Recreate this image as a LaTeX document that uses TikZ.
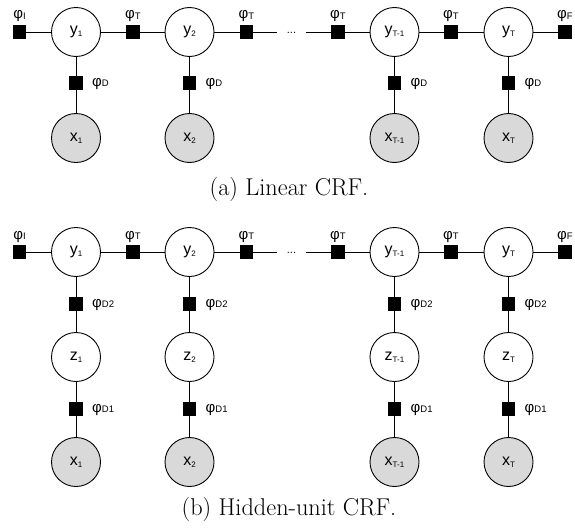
\documentclass[tikz,border=0pt]{standalone}
\usepackage{fontspec}
\newfontfamily\arialf{Liberation Sans}
\definecolor{obsgray}{HTML}{D9D9D9}
\newcommand{\vlab}[2]{{\arialf\fontsize{16}{16}\selectfont #1}\raisebox{-2pt}{\arialf\fontsize{8}{8}\selectfont #2}}
\newcommand{\flab}[2]{{\arialf\fontsize{15}{15}\selectfont #1}\raisebox{-0.5pt}{\arialf\fontsize{9.5}{9.5}\selectfont #2}}
\begin{document}
\begin{tikzpicture}[x=1pt,y=-1pt,
  var/.style={circle,draw,line width=0.9pt,minimum size=49pt,inner sep=0pt,fill=white},
  obs/.style={var,fill=obsgray},
  fac/.style={rectangle,fill=black,minimum size=13.5pt,inner sep=0pt},
  edge/.style={line width=0.9pt},
  toplab/.style={inner sep=0pt,anchor=base},
  sidelab/.style={inner sep=0pt,anchor=west},
  captxt/.style={inner sep=0pt,font=\fontsize{24.3}{29}\selectfont}]
\useasboundingbox (0,0) rectangle (575,527);
% ---------- panel (a) ----------
\node[var] (ay1) at (76,32) {\vlab{y}{1}};
\node[var] (ay2) at (189.5,32) {\vlab{y}{2}};
\node[var] (ay3) at (394.5,32) {\vlab{y}{T-1}};
\node[var] (ay4) at (508.5,32) {\vlab{y}{T}};
\node[fac] (afI) at (19.5,32) {};
\node[fac] (afT1) at (133,32) {};
\node[fac] (afT2) at (246.5,32) {};
\node[fac] (afT3) at (338,32) {};
\node[fac] (afT4) at (451,32) {};
\node[fac] (afF) at (565,32) {};
\coordinate (ad1) at (277,32);
\coordinate (ad2) at (306,32);
\node[inner sep=0pt] (adots) at (291.5,33) {\arialf\fontsize{11}{11}\selectfont ...};
\draw[edge] (afI) -- (ay1) -- (afT1) -- (ay2) -- (afT2) -- (ad1);
\draw[edge] (ad2) -- (afT3) -- (ay3) -- (afT4) -- (ay4) -- (afF);
\node[toplab] (alI) at (19.5,19) {\flab{φ}{I}};
\node[toplab] (alT1) at (133,19) {\flab{φ}{T}};
\node[toplab] (alT2) at (246.5,19) {\flab{φ}{T}};
\node[toplab] (alT3) at (338,19) {\flab{φ}{T}};
\node[toplab] (alT4) at (451,19) {\flab{φ}{T}};
\node[toplab] (alF) at (565,19) {\flab{φ}{F}};
\foreach \i/\xx/\sub in {1/76/1,2/189.5/2,3/394.5/T-1,4/508.5/T}{
  \node[fac] (afD\i) at (\xx,83) {};
  \node[obs] (ax\i) at (\xx,138) {\vlab{x}{\sub}};
  \draw[edge] (ay\i) -- (afD\i) -- (ax\i);
  \node[sidelab] (alD\i) at (\xx+16,84) {\flab{φ}{D}};
}
\node[captxt] (capa) at (289,189) {(a) Linear CRF.};
% ---------- panel (b) ----------
\node[var] (by1) at (76,252) {\vlab{y}{1}};
\node[var] (by2) at (189.5,252) {\vlab{y}{2}};
\node[var] (by3) at (394.5,252) {\vlab{y}{T-1}};
\node[var] (by4) at (508.5,252) {\vlab{y}{T}};
\node[fac] (bfI) at (19.5,252) {};
\node[fac] (bfT1) at (133,252) {};
\node[fac] (bfT2) at (246.5,252) {};
\node[fac] (bfT3) at (338,252) {};
\node[fac] (bfT4) at (451,252) {};
\node[fac] (bfF) at (565,252) {};
\coordinate (bd1) at (277,252);
\coordinate (bd2) at (306,252);
\node[inner sep=0pt] (bdots) at (291.5,253) {\arialf\fontsize{11}{11}\selectfont ...};
\draw[edge] (bfI) -- (by1) -- (bfT1) -- (by2) -- (bfT2) -- (bd1);
\draw[edge] (bd2) -- (bfT3) -- (by3) -- (bfT4) -- (by4) -- (bfF);
\node[toplab] (blI) at (19.5,239) {\flab{φ}{I}};
\node[toplab] (blT1) at (133,239) {\flab{φ}{T}};
\node[toplab] (blT2) at (246.5,239) {\flab{φ}{T}};
\node[toplab] (blT3) at (338,239) {\flab{φ}{T}};
\node[toplab] (blT4) at (451,239) {\flab{φ}{T}};
\node[toplab] (blF) at (565,239) {\flab{φ}{F}};
\foreach \i/\xx/\sub in {1/76/1,2/189.5/2,3/394.5/T-1,4/508.5/T}{
  \node[fac] (bfDb\i) at (\xx,304) {};
  \node[var] (bz\i) at (\xx,357) {\vlab{z}{\sub}};
  \node[fac] (bfDa\i) at (\xx,409) {};
  \node[obs] (bx\i) at (\xx,462) {\vlab{x}{\sub}};
  \draw[edge] (by\i) -- (bfDb\i) -- (bz\i) -- (bfDa\i) -- (bx\i);
  \node[sidelab] (blDb\i) at (\xx+16,305) {\flab{φ}{D2}};
  \node[sidelab] (blDa\i) at (\xx+16,410) {\flab{φ}{D1}};
}
\node[captxt] (capb) at (289,509) {(b) Hidden-unit CRF.};
\end{tikzpicture}
\end{document}
